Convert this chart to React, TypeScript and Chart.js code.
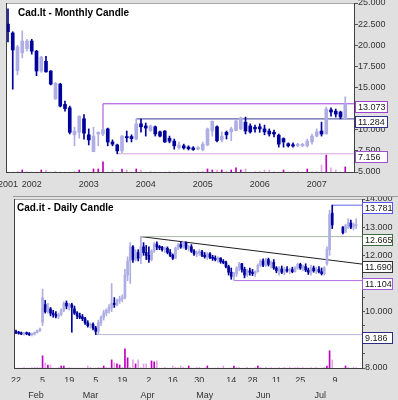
import React, { useEffect, useRef } from 'react';
import { Chart, registerables } from 'chart.js';

Chart.register(...registerables);

const FONT = '"Liberation Sans", Arial, Helvetica, sans-serif';
Chart.defaults.font.family = FONT;
Chart.defaults.font.size = 9;
Chart.defaults.color = '#333333';

// ---------------- Monthly candles: index 0 = Aug 2001 ... 71 = Jul 2007 ----------------
const monthlyOpen = [22.5, 21.45, 17.0, 19.1, 19.6, 20.5, 19.3, 16.95, 18.1, 16.95,
  13.65, 15.4, 13.0, 12.6, 9.4, 9.7, 11.3, 9.4, 7.4, 9.5,
  9.5, 10.1, 8.55, 8.2, 7.5, 9.2, 9.2, 8.9, 10.7, 10.45,
  9.9, 10.35, 9.75, 9.85, 9.0, 8.65, 7.85, 8.1, 7.95, 7.85,
  7.75, 7.65, 8.2, 9.85, 10.35, 8.8, 9.7, 9.75, 9.9, 10.1,
  10.9, 10.45, 10.3, 10.35, 10.1, 9.85, 9.7, 9.35, 8.95, 8.35,
  8.2, 8.1, 8.15, 8.1, 8.55, 9.25, 9.85, 9.5, 12.35, 12.2,
  12.1, 11.3];
const monthlyHigh = [24.3, 21.6, 20.0, 21.7, 20.7, 20.7, 19.4, 18.7, 18.7, 17.0,
  15.6, 15.5, 13.4, 12.8, 10.3, 11.65, 11.8, 10.1, 10.3, 9.75,
  10.1, 10.2, 8.8, 8.3, 9.3, 9.85, 9.4, 11.284, 11.25, 10.8,
  10.55, 10.45, 9.85, 9.9, 9.25, 8.9, 8.55, 8.3, 8.1, 8.0,
  8.0, 8.55, 10.2, 11.05, 10.45, 9.75, 9.85, 10.3, 11.1, 11.5,
  11.5, 10.7, 10.55, 10.7, 10.55, 10.1, 9.95, 9.5, 9.05, 8.45,
  8.45, 8.4, 8.4, 8.9, 9.5, 10.1, 10.9, 12.7, 12.6, 12.45,
  12.2, 13.9];
const monthlyLow = [20.4, 14.8, 16.5, 18.5, 19.3, 18.95, 16.4, 16.8, 16.8, 15.3,
  13.6, 12.7, 12.2, 9.5, 8.1, 9.0, 8.9, 8.2, 7.4, 8.1,
  9.3, 8.1, 8.1, 7.156, 7.3, 8.55, 8.55, 8.8, 9.7, 9.25,
  9.8, 9.25, 9.15, 8.5, 8.45, 7.7, 7.7, 7.7, 7.6, 7.55,
  7.6, 7.5, 8.1, 9.25, 8.55, 8.55, 8.9, 8.7, 9.85, 10.0,
  9.5, 9.6, 9.7, 9.7, 9.4, 9.25, 9.15, 7.95, 7.95, 7.95,
  7.95, 8.0, 8.0, 7.95, 8.3, 9.15, 9.25, 9.5, 11.6, 11.5,
  11.284, 11.284];
const monthlyClose = [21.6, 19.44, 19.8, 20.5, 20.5, 19.3, 16.95, 18.6, 16.85, 15.4,
  15.5, 12.8, 12.5, 9.7, 9.85, 11.6, 9.6, 8.8, 9.25, 9.7,
  10.0, 8.55, 8.3, 7.5, 9.25, 9.05, 8.95, 10.7, 10.35, 10.2,
  10.45, 9.5, 9.25, 8.55, 8.65, 8.1, 8.2, 7.85, 7.75, 7.65,
  7.85, 8.3, 10.1, 11.0, 8.7, 9.25, 9.4, 10.1, 11.05, 11.4,
  9.85, 9.75, 10.1, 10.1, 9.75, 9.5, 9.5, 8.3, 8.55, 8.1,
  8.1, 8.3, 8.25, 8.65, 9.25, 9.75, 9.5, 12.45, 12.1, 11.85,
  11.5, 13.05];
const monthlyVolume = [0, 0, 0, 12, 0, 0, 0, 12, 12, 0,
  0, 0, 0, 0, 0, 12, 0, 0, 18, 18,
  60, 0, 12, 0, 18, 12, 0, 18, 12, 0,
  0, 0, 0, 0, 0, 0, 0, 0, 0, 0,
  0, 0, 18, 12, 12, 12, 0, 12, 24, 12,
  18, 0, 0, 0, 12, 12, 0, 0, 12, 0,
  0, 0, 0, 18, 0, 0, 42, 100, 24, 12,
  0, 30];
const yearTickIndex = [0, 5, 17, 29, 41, 53, 65];
const yearTickLabels = ['2001', '2002', '2003', '2004', '2005', '2006', '2007'];
const monthlyLevels = [13.073, 11.284, 7.156];
const monthlyLevelStart = [20, 27, 23];

// ---------------- Daily candles: slot 0 = 22 Jan 2007 (one slot per weekday) ----------------
const dailyOpen = [
  9.30, 9.26, 9.24, 9.22, 9.25, 9.21, 9.19, 9.20, 9.26, 9.33,
  9.62, 10.25, 10.00, 10.10, 9.95, 9.90, 9.84, 9.90, 10.05, 10.30,
  10.20, 10.25, 10.10, 9.95, 9.85, 9.82, 9.75, 9.60, 9.52, 9.55,
  9.42, 9.30, 9.60, 9.80, 9.95, 10.05, 10.15, 10.30, 10.25, 10.40,
  10.45, 10.50, 11.30, 11.80, 12.30, 11.85, 12.10, 11.95, 12.30, 12.10,
  12.00, 11.85, 12.15, 12.40, 12.30, 12.28, 12.20, 12.25, 12.10, 12.00,
  11.90, 12.25, 12.38, 12.30, 12.45, 12.25, 12.30, 12.15, 12.05, 12.10,
  12.12, 12.00, 11.95, 12.05, 11.92, 11.90, 11.85, 11.90, 11.78, 11.75,
  11.60, 11.40, 11.25, 11.35, 11.55, 11.70, 11.50, 11.30, 11.45, 11.40,
  11.35, 11.42, 11.65, 11.80, 11.65, 11.85, 11.68, 11.75, 11.55, 11.45,
  11.52, 11.40, 11.50, 11.45, 11.50, 11.42, 11.55, 11.68, 11.55, 11.60,
  11.48, 11.40, 11.55, 11.45, 11.50, 11.42, 11.35, 11.70, 12.20, 13.50,
  null, null, null, 13.00, 12.85, 13.05, 13.15, 13.00, 13.05];
const dailyHigh = [
  9.35, 9.30, 9.28, 9.27, 9.28, 9.26, 9.24, 9.28, 9.35, 9.42,
  10.80, 10.40, 10.30, 10.15, 10.05, 10.00, 9.95, 10.10, 10.35, 10.38,
  10.30, 10.30, 10.20, 10.00, 9.95, 9.90, 9.80, 9.68, 9.60, 9.60,
  9.48, 9.70, 9.85, 10.05, 10.10, 10.25, 11.00, 10.50, 10.45, 10.55,
  10.60, 11.50, 11.95, 12.45, 12.35, 12.20, 12.20, 12.665, 12.45, 12.35,
  12.30, 12.20, 12.45, 12.48, 12.35, 12.32, 12.30, 12.30, 12.20, 12.05,
  12.30, 12.42, 12.48, 12.50, 12.48, 12.35, 12.38, 12.20, 12.15, 12.20,
  12.18, 12.10, 12.10, 12.10, 12.00, 11.98, 11.95, 11.92, 11.85, 11.80,
  11.65, 11.55, 11.40, 11.60, 11.75, 11.72, 11.58, 11.50, 11.55, 11.50,
  11.45, 11.70, 11.85, 11.88, 11.90, 11.90, 11.80, 11.85, 11.60, 11.60,
  11.62, 11.58, 11.60, 11.55, 11.58, 11.60, 11.72, 11.72, 11.65, 11.70,
  11.55, 11.65, 11.62, 11.58, 11.60, 11.55, 11.60, 12.30, 13.60, 13.781,
  null, null, null, 13.02, 13.10, 13.30, 13.25, 13.15, 13.30];
const dailyLow = [
  9.22, 9.20, 9.18, 9.17, 9.18, 9.15, 9.14, 9.17, 9.24, 9.30,
  9.50, 9.95, 9.95, 9.85, 9.80, 9.78, 9.75, 9.85, 10.00, 10.10,
  10.05, 9.27, 9.90, 9.75, 9.75, 9.68, 9.55, 9.45, 9.42, 9.35,
  9.186, 9.20, 9.50, 9.70, 9.85, 9.95, 10.00, 10.15, 10.20, 10.30,
  10.35, 10.45, 11.10, 11.00, 11.75, 11.80, 11.80, 11.70, 12.00, 11.85,
  11.75, 11.80, 12.10, 12.20, 12.20, 12.15, 12.10, 12.05, 11.95, 11.85,
  11.88, 12.20, 12.25, 12.25, 12.20, 12.15, 12.10, 12.00, 11.95, 12.00,
  11.95, 11.90, 11.85, 11.88, 11.82, 11.80, 11.75, 11.72, 11.70, 11.55,
  11.30, 11.15, 11.104, 11.25, 11.45, 11.40, 11.20, 11.25, 11.30, 11.28,
  11.25, 11.40, 11.60, 11.60, 11.60, 11.62, 11.55, 11.50, 11.38, 11.30,
  11.35, 11.30, 11.40, 11.35, 11.38, 11.40, 11.50, 11.50, 11.45, 11.42,
  11.32, 11.30, 11.40, 11.35, 11.38, 11.30, 11.30, 11.65, 12.00, 12.95,
  null, null, null, 12.76, 12.80, 12.95, 12.95, 12.90, 12.95];
const dailyClose = [
  9.26, 9.24, 9.22, 9.25, 9.21, 9.19, 9.22, 9.26, 9.33, 9.38,
  10.50, 10.00, 10.15, 9.95, 9.90, 9.84, 9.90, 10.05, 10.30, 10.20,
  10.25, 10.15, 9.95, 9.85, 9.80, 9.75, 9.60, 9.50, 9.55, 9.42,
  9.30, 9.62, 9.80, 9.95, 10.05, 10.15, 10.30, 10.25, 10.40, 10.45,
  10.50, 11.30, 11.80, 12.30, 11.85, 12.10, 11.90, 12.30, 12.10, 12.00,
  11.85, 12.15, 12.40, 12.30, 12.28, 12.20, 12.25, 12.10, 12.00, 11.90,
  12.25, 12.38, 12.30, 12.45, 12.25, 12.30, 12.15, 12.05, 12.10, 12.12,
  12.00, 11.95, 12.05, 11.92, 11.90, 11.85, 11.90, 11.78, 11.75, 11.60,
  11.40, 11.25, 11.35, 11.55, 11.70, 11.50, 11.30, 11.45, 11.40, 11.35,
  11.42, 11.65, 11.80, 11.65, 11.85, 11.68, 11.75, 11.55, 11.45, 11.52,
  11.40, 11.50, 11.45, 11.50, 11.42, 11.55, 11.68, 11.55, 11.60, 11.48,
  11.40, 11.55, 11.45, 11.50, 11.42, 11.35, 11.55, 12.20, 13.45, 13.08,
  null, null, null, 12.80, 13.05, 13.15, 13.00, 13.10, 13.10];
const dailyVolume = [
  0, 0, 0, 0, 0, 0, 0, 0, 0, 0,
  72, 30, 18, 18, 0, 0, 0, 12, 12, 0,
  0, 0, 0, 0, 0, 0, 0, 12, 0, 0,
  0, 0, 0, 12, 0, 0, 48, 30, 24, 18,
  0, 114, 60, 0, 48, 24, 48, 0, 24, 24,
  0, 42, 36, 42, 0, 0, 0, 0, 0, 12,
  0, 0, 12, 0, 0, 12, 0, 0, 0, 0,
  0, 0, 12, 0, 0, 0, 0, 0, 12, 0,
  0, 0, 12, 0, 0, 0, 0, 0, 0, 0,
  0, 12, 0, 0, 0, 0, 0, 0, 0, 0,
  0, 0, 0, 0, 0, 0, 0, 0, 0, 0,
  0, 0, 0, 0, 0, 0, 0, 12, 102, 48,
  0, 0, 0, 0, 12, 0, 0, 0, 0];
const dayTickPos = [0, 10, 20, 30, 40, 50, 59, 69, 81, 89, 98, 107, 120];
const dayTickLabels = ['22', '5', '19', '5', '19', '2', '16', '30', '14', '28', '11', '25', '9'];
const monthTickPos = [7.5, 28, 49.5, 71, 93, 114.5];
const monthTickLabels = ['Feb', 'Mar', 'Apr', 'May', 'Jun', 'Jul'];
const dailyLevels = [13.781, 12.665, 11.104, 9.186];
const dailyLevelStart = [119, 47, 82, 30];
const trendStart = { slot: 47, value: 12.665 };
const trendEnd = 11.69;

// ---------------- styling ----------------
const NAVY = '#00009c';
const LAV = '#aeaee4';
const VOL_UP = '#c000c0';
const VOL_DN = '#e2a6e2';

type Candle = { x: number; o: number; h: number; l: number; c: number; v: number; pc: number };

function buildCandles(o: (number | null)[], h: (number | null)[], l: (number | null)[], c: (number | null)[], v: number[]): Candle[] {
  const out: Candle[] = [];
  let prev = o[0] as number;
  for (let i = 0; i < o.length; i++) {
    if (o[i] == null || c[i] == null) continue;
    out.push({ x: i, o: o[i] as number, h: h[i] as number, l: l[i] as number, c: c[i] as number, v: v[i], pc: prev });
    prev = c[i] as number;
  }
  return out;
}

function candleDatasets(cs: Candle[], bodyW: number, minBody: number) {
  const col = cs.map((k) => (k.c < k.o ? NAVY : LAV));
  return [
    {
      type: 'bar', label: 'body', xAxisID: 'x', yAxisID: 'y', order: 1, grouped: false,
      barThickness: bodyW, borderWidth: 0, backgroundColor: col,
      data: cs.map((k) => {
        let lo = Math.min(k.o, k.c), hi = Math.max(k.o, k.c);
        if (hi - lo < minBody) { const m = (lo + hi) / 2; lo = m - minBody / 2; hi = m + minBody / 2; }
        return { x: k.x, y: [lo, hi] };
      }),
    },
    {
      type: 'bar', label: 'wick', xAxisID: 'x', yAxisID: 'y', order: 2, grouped: false,
      barThickness: 1, borderWidth: 0, backgroundColor: col,
      data: cs.map((k) => ({ x: k.x, y: [k.l, k.h] })),
    },
    {
      type: 'bar', label: 'volume', xAxisID: 'x', yAxisID: 'yv', order: 4, grouped: false,
      barThickness: 1, borderWidth: 0,
      backgroundColor: cs.map((k) => (k.c >= k.pc ? VOL_UP : VOL_DN)),
      data: cs.map((k) => ({ x: k.x, y: k.v })),
    },
  ];
}

function lineDs(points: { x: number; y: number }[], color: string) {
  return {
    type: 'line', xAxisID: 'x', yAxisID: 'y', order: 3, data: points,
    borderColor: color, borderWidth: 1, pointRadius: 0, fill: false, tension: 0,
  };
}

function overlayPlugin(title: string, tx: number, ty: number, boxes: { value: number; color: string }[], boxLeft: number, boxW: number) {
  return {
    id: 'overlay',
    beforeDraw(chart: any) {
      const { ctx, chartArea: a } = chart;
      ctx.save();
      ctx.fillStyle = '#ffffff';
      ctx.fillRect(a.left, a.top, a.right - a.left, a.bottom - a.top);
      ctx.restore();
    },
    afterDraw(chart: any) {
      const { ctx, chartArea: a } = chart;
      const ys = chart.scales.y;
      ctx.save();
      ctx.lineWidth = 1;
      ctx.strokeStyle = '#a8a8a8';
      ctx.beginPath(); ctx.moveTo(a.left, a.top + 0.5); ctx.lineTo(a.right, a.top + 0.5); ctx.stroke();
      ctx.strokeStyle = '#404040';
      ctx.beginPath(); ctx.moveTo(a.left + 0.5, a.top); ctx.lineTo(a.left + 0.5, a.bottom); ctx.stroke();
      ctx.font = `9px ${FONT}`;
      ctx.textBaseline = 'middle';
      ctx.textAlign = 'left';
      for (const b of boxes) {
        const cy = Math.round(ys.getPixelForValue(b.value)) + 3;
        const top = cy - 6;
        ctx.fillStyle = '#ffffff';
        ctx.fillRect(boxLeft, top, boxW, 11);
        ctx.strokeStyle = b.color;
        ctx.strokeRect(boxLeft + 0.5, top + 0.5, boxW - 1, 11);
        ctx.fillStyle = '#1a1a1a';
        ctx.fillText(b.value.toFixed(3), boxLeft + 3, cy + 0.5);
      }
      ctx.font = `bold 10px ${FONT}`;
      ctx.fillStyle = '#000000';
      ctx.fillText(title, tx, ty);
      ctx.restore();
    },
  };
}

function customTicks(pos: number[], labels: string[]) {
  return {
    afterBuildTicks: (s: any) => { s.ticks = pos.map((v) => ({ value: v })); },
    callback: (v: number) => { const k = pos.indexOf(v); return k >= 0 ? labels[k] : ''; },
  };
}

function topConfig(): any {
  const cs = buildCandles(monthlyOpen, monthlyHigh, monthlyLow, monthlyClose, monthlyVolume);
  const xmin = -0.42, xmax = 72.84;
  const lvlColors = ['#a040e0', '#3a3a96', '#d4a4dc'];
  const lines = monthlyLevels.map((lv, k) => {
    const s = monthlyLevelStart[k];
    const pts = [{ x: s, y: lv }, { x: xmax, y: lv }];
    if (k === 0) pts.unshift({ x: s, y: monthlyHigh[s] });
    return lineDs(pts, lvlColors[k]);
  });
  const yt = customTicks(yearTickIndex, yearTickLabels);
  return {
    type: 'bar',
    data: { datasets: [...candleDatasets(cs, 3, 0.15), ...lines] },
    options: {
      responsive: false, animation: false, events: [],
      layout: { padding: { left: 6, top: 3, right: 0, bottom: 0 } },
      plugins: { legend: { display: false }, tooltip: { enabled: false } },
      scales: {
        x: {
          type: 'linear', min: xmin, max: xmax, offset: false,
          grid: { display: true, drawOnChartArea: false, drawTicks: true, tickLength: 4, color: 'rgba(0,0,0,0)' },
          border: { display: true, color: '#404040' },
          ticks: { autoSkip: false, maxRotation: 0, padding: 3, color: '#333', callback: yt.callback },
          afterBuildTicks: yt.afterBuildTicks,
          afterFit: (s: any) => { s.height = 25; s.paddingLeft = 0; s.paddingRight = 0; },
        },
        y: {
          type: 'linear', position: 'right', min: 5, max: 25,
          grid: { drawOnChartArea: false, drawTicks: true, tickLength: 4, color: '#555' },
          border: { display: true, color: '#404040' },
          ticks: {
            stepSize: 1.25, padding: 0, color: '#333',
            callback: (v: number) => (Math.abs(v / 2.5 - Math.round(v / 2.5)) < 1e-6 ? v.toFixed(3) : ''),
          },
          afterFit: (s: any) => { s.width = 44; s.paddingTop = 0; s.paddingBottom = 0; },
        },
        yv: { type: 'linear', display: false, min: 0, max: 1000 },
      },
    },
    plugins: [overlayPlugin('Cad.It - Monthly Candle', 18, 13.5,
      monthlyLevels.map((v, k) => ({ value: v, color: ['#a040d0', '#30308e', '#a050c8'][k] })), 355, 33)],
  };
}

function bottomConfig(): any {
  const cs = buildCandles(dailyOpen, dailyHigh, dailyLow, dailyClose, dailyVolume);
  const xmin = -0.75, xmax = 130.2;
  const lvlColors = ['#6262f0', '#a9b9a9', '#b070e8', '#b6b6d6'];
  const lines = dailyLevels.map((lv, k) => lineDs([{ x: dailyLevelStart[k], y: lv }, { x: xmax, y: lv }], lvlColors[k]));
  lines.push(lineDs([{ x: trendStart.slot, y: trendStart.value }, { x: xmax, y: trendEnd }], '#1e1e1e'));
  const dt = customTicks(dayTickPos, dayTickLabels);
  const mt = customTicks(monthTickPos, monthTickLabels);
  const boxes = [
    { value: 13.781, color: '#5656ee' },
    { value: 12.665, color: '#3e6a3e' },
    { value: 11.69, color: '#333333' },
    { value: 11.104, color: '#a45ad8' },
    { value: 9.186, color: '#2c2c84' },
  ];
  return {
    type: 'bar',
    data: { datasets: [...candleDatasets(cs, 2, 0.04), ...lines] },
    options: {
      responsive: false, animation: false, events: [],
      layout: { padding: { left: 14, top: 2, right: 0, bottom: 0 } },
      plugins: { legend: { display: false }, tooltip: { enabled: false } },
      scales: {
        x: {
          type: 'linear', position: 'bottom', weight: 0, min: xmin, max: xmax, offset: false,
          grid: { display: true, drawOnChartArea: false, drawTicks: true, tickLength: 4, color: 'rgba(0,0,0,0)' },
          border: { display: true, color: '#404040' },
          ticks: { autoSkip: false, maxRotation: 0, padding: 3, color: '#333', callback: dt.callback },
          afterBuildTicks: dt.afterBuildTicks,
          afterFit: (s: any) => { s.height = 14; s.paddingLeft = 0; s.paddingRight = 0; },
        },
        xm: {
          type: 'linear', position: 'bottom', weight: 1, min: xmin, max: xmax, offset: false,
          grid: { display: false, drawTicks: false },
          border: { display: false },
          ticks: { autoSkip: false, maxRotation: 0, padding: 8, color: '#333', callback: mt.callback },
          afterBuildTicks: mt.afterBuildTicks,
          afterFit: (s: any) => { s.height = 18; s.paddingLeft = 0; s.paddingRight = 0; },
        },
        y: {
          type: 'linear', position: 'right', min: 8, max: 14,
          grid: { drawOnChartArea: false, drawTicks: true, tickLength: 3, color: '#555' },
          border: { display: true, color: '#404040' },
          ticks: {
            stepSize: 0.5, padding: 0, color: '#333',
            callback: (v: number) => (Math.abs(v - Math.round(v)) < 1e-6 ? v.toFixed(3) : ''),
          },
          afterFit: (s: any) => { s.width = 36; s.paddingTop = 0; s.paddingBottom = 0; },
        },
        yv: { type: 'linear', display: false, min: 0, max: 1000 },
      },
    },
    plugins: [overlayPlugin('Cad.it - Daily Candle', 17, 11, boxes, 362, 31)],
  };
}

export default function App() {
  const topRef = useRef<HTMLCanvasElement>(null);
  const botRef = useRef<HTMLCanvasElement>(null);
  useEffect(() => {
    const c1 = new Chart(topRef.current as HTMLCanvasElement, topConfig());
    const c2 = new Chart(botRef.current as HTMLCanvasElement, bottomConfig());
    return () => { c1.destroy(); c2.destroy(); };
  }, []);
  return (
    <div style={{ position: 'absolute', left: 0, top: 0, width: 398, height: 400, background: '#e0e0e0', overflow: 'hidden' }}>
      <canvas ref={topRef} width={398} height={197} style={{ position: 'absolute', left: 0, top: 0, width: 398, height: 197 }} />
      <div style={{ position: 'absolute', left: 13, top: 196, width: 385, height: 1, background: '#9a9a9a' }} />
      <canvas ref={botRef} width={398} height={203} style={{ position: 'absolute', left: 0, top: 197, width: 398, height: 203 }} />
    </div>
  );
}
